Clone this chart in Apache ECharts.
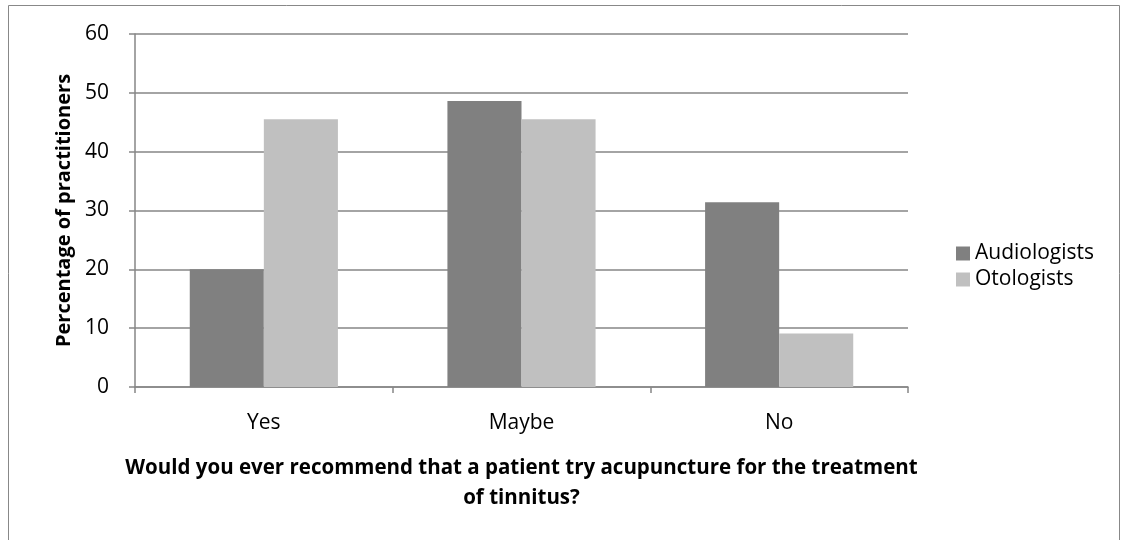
<!DOCTYPE html>
<html>
<head>
<meta charset="utf-8">
<script src="https://cdn.jsdelivr.net/npm/echarts@6/dist/echarts.min.js"></script>
<style>
  html, body { margin: 0; padding: 0; background: #fff; }
  #chart { width: 1122px; height: 540px; }
</style>
</head>
<body>
<div id="chart"></div>
<script>
var categories = ['Yes', 'Maybe', 'No'];
var audiologists = [20.0, 48.6, 31.4];
var otologists = [45.5, 45.5, 9.1];
var yTicks = { min: 0, max: 60, interval: 10 };

var myChart = echarts.init(document.getElementById('chart'));
var font = '"Open Sans", "Noto Sans", sans-serif';

var option = {
    animation: false,
    textStyle: { fontFamily: font },
    graphic: [
        {
            type: 'rect',
            shape: { x: 8.5, y: 5.5, width: 1111, height: 560 },
            style: { fill: 'none', stroke: '#888', lineWidth: 1 },
            silent: true
        }
    ],
    legend: {
        orient: 'vertical',
        left: 951,
        top: 238,
        itemWidth: 14,
        itemHeight: 14,
        itemGap: 5,
        icon: 'rect',
        data: ['Audiologists', 'Otologists'],
        textStyle: { fontSize: 21, color: '#000', fontFamily: font }
    },
    grid: {
        left: 135,
        right: 1122 - 908,
        top: 34,
        bottom: 540 - 387,
        containLabel: false,
        outerBoundsMode: 'none'
    },
    xAxis: {
        type: 'category',
        data: categories,
        axisLine: { lineStyle: { color: '#868686', width: 1.5 } },
        axisTick: { show: true, length: 6, lineStyle: { color: '#868686', width: 1.5 } },
        axisLabel: { fontSize: 21, color: '#000', margin: 26, fontFamily: font },
        name: 'Would you ever recommend that a patient try acupuncture for the treatment\nof tinnitus?',
        nameLocation: 'middle',
        nameGap: 66,
        nameTextStyle: { fontSize: 20.5, fontWeight: 'bold', color: '#000', lineHeight: 30, fontFamily: font }
    },
    yAxis: {
        type: 'value',
        min: yTicks.min,
        max: yTicks.max,
        interval: yTicks.interval,
        axisLine: { show: true, lineStyle: { color: '#868686', width: 1.5 } },
        axisTick: { show: true, length: 6, lineStyle: { color: '#868686', width: 1.5 } },
        splitLine: { lineStyle: { color: '#868686', width: 1.5 } },
        axisLabel: { fontSize: 21, color: '#000', margin: 26, fontFamily: font },
        name: 'Percentage of practitioners',
        nameLocation: 'middle',
        nameGap: 60,
        nameRotate: 90,
        nameTextStyle: { fontSize: 20, fontWeight: 'bold', color: '#000', fontFamily: font }
    },
    series: [
        {
            name: 'Audiologists',
            type: 'bar',
            data: audiologists,
            color: '#808080',
            barGap: '0%',
            barCategoryGap: '42.5%'
        },
        {
            name: 'Otologists',
            type: 'bar',
            data: otologists,
            color: '#c0c0c0',
            barGap: '0%',
            barCategoryGap: '42.5%'
        }
    ]
};

myChart.setOption(option);
</script>
</body>
</html>
